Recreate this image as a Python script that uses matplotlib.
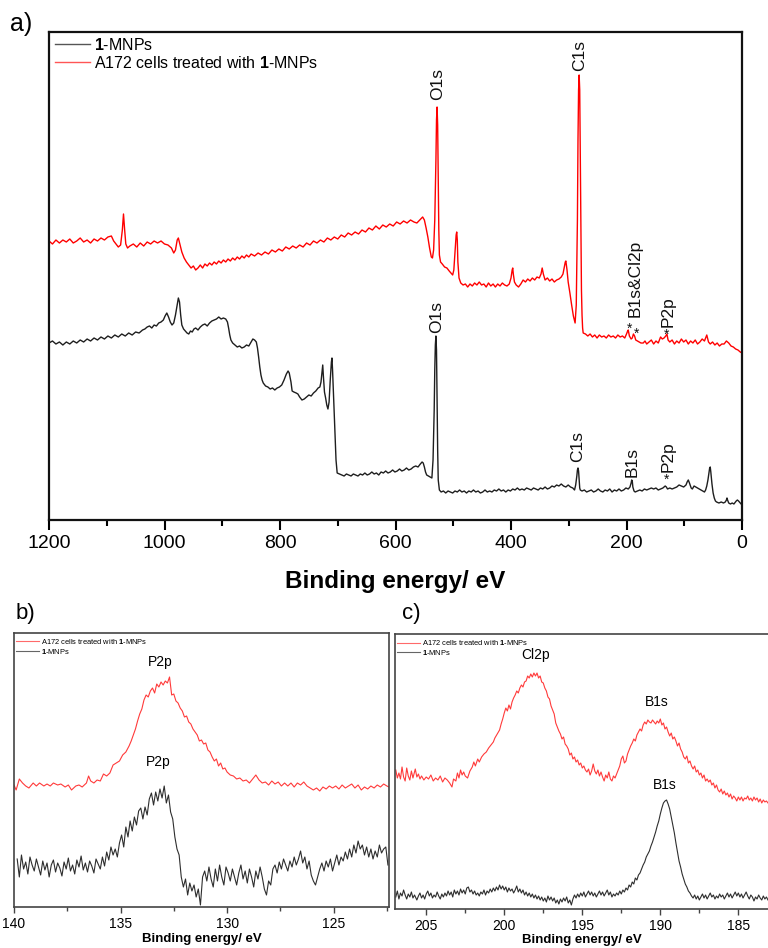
import matplotlib
matplotlib.use("Agg")
import matplotlib.pyplot as plt
from matplotlib.lines import Line2D
from matplotlib.ticker import MultipleLocator

plt.rcParams['font.family'] = ['Liberation Sans', 'DejaVu Sans']
plt.rcParams['mathtext.fontset'] = 'custom'
plt.rcParams['mathtext.rm'] = 'Liberation Sans'
plt.rcParams['mathtext.bf'] = 'Liberation Sans:bold'

# ---------------- survey spectra (a) ----------------
survey_cells_be = [
    1200, 1194, 1188, 1182, 1176, 1170, 1164, 1158, 1152, 1146, 1140, 1134, 1128, 1122, 1116, 1110,
    1104, 1098, 1092, 1088, 1084, 1080, 1076, 1073, 1071, 1069, 1067, 1064, 1060, 1054, 1048, 1042,
    1036, 1030, 1024, 1018, 1012, 1006, 1000, 994, 988, 984, 981, 978, 976, 973, 970, 966, 962, 958,
    954, 950, 946, 942, 938, 934, 930, 926, 922, 918, 914, 910, 906, 902, 898, 894, 890, 886, 882,
    878, 874, 870, 866, 862, 858, 854, 850, 844, 838, 832, 826, 820, 814, 808, 802, 796, 790, 784,
    778, 772, 766, 760, 754, 748, 742, 736, 730, 724, 718, 712, 706, 700, 694, 688, 682, 676, 670,
    664, 658, 652, 646, 640, 634, 628, 622, 616, 610, 604, 598, 592, 586, 580, 574, 568, 563, 558,
    553, 550, 547, 544, 541, 538, 536, 534, 532, 530, 529, 528, 527, 526, 525, 524, 522, 519, 515,
    511, 507, 504, 501, 499, 497, 495, 494, 493, 492, 490, 487, 483, 479, 475, 471, 467, 463, 459,
    455, 451, 447, 443, 439, 435, 431, 427, 423, 419, 415, 411, 407, 403, 400, 398, 397, 396, 394,
    391, 387, 383, 379, 375, 371, 367, 363, 359, 355, 351, 348, 346, 344, 341, 337, 333, 329, 325,
    321, 317, 313, 310, 308, 306, 305, 303, 301, 298, 295, 292, 289, 287, 285, 284, 283, 282, 281,
    280, 279, 278, 277, 276, 275, 271, 267, 263, 259, 255, 251, 247, 243, 239, 235, 231, 227, 223,
    219, 215, 211, 207, 203, 200, 198, 197, 195, 192, 190, 188, 186, 184, 181, 178, 175, 171, 168,
    165, 161, 157, 153, 149, 145, 141, 138, 135, 132, 130, 128, 125, 121, 117, 113, 109, 105, 101,
    97, 93, 89, 85, 81, 77, 73, 69, 65, 61, 58, 55, 51, 47, 43, 39, 35, 31, 27, 23, 19, 15, 11, 7, 3, 0]
survey_cells_int = [
    279, 276, 280, 277, 280, 278, 281, 277, 279, 282, 278, 280, 277, 281, 279, 282,
    280, 283, 284, 279, 276, 273, 275, 290, 306, 290, 276, 272, 274, 276, 273, 277,
    274, 278, 276, 279, 277, 279, 276, 275, 272, 267, 270, 280, 282, 275, 268, 262, 258, 255,
    252, 254, 250, 252, 255, 252, 256, 254, 257, 255, 258, 256, 259, 257, 260, 258, 261, 259, 262,
    260, 263, 261, 264, 262, 265, 263, 266, 264, 267, 265, 268, 266, 270, 268, 271, 269, 273, 271,
    274, 272, 275, 273, 277, 275, 279, 277, 280, 278, 282, 280, 283, 281, 285, 283, 287, 285, 288,
    286, 290, 288, 292, 290, 294, 291, 295, 293, 296, 294, 298, 296, 299, 297, 300, 298, 297, 300,
    303, 300, 292, 283, 272, 263, 262, 270, 300, 360, 400, 413, 395, 340, 290, 265, 258, 256, 253,
    252, 249, 247, 245, 250, 268, 285, 288, 280, 258, 242, 237, 235, 236, 233, 236, 234, 237, 235,
    238, 235, 236, 233, 237, 234, 236, 233, 236, 234, 237, 235, 234, 236, 242, 250, 252, 246, 238,
    235, 233, 236, 240, 238, 241, 239, 242, 240, 243, 242, 246, 252, 246, 240, 242, 239, 241, 238,
    240, 241, 243, 246, 252, 258, 259, 250, 238, 227, 215, 204, 197, 215, 300, 380, 430, 445, 430,
    360, 280, 230, 205, 192, 187, 186, 184, 186, 183, 185, 182, 185, 183, 184, 182, 185, 183, 184,
    182, 185, 183, 184, 182, 186, 189, 190, 184, 181, 182, 186, 184, 180, 179, 178, 177, 177, 179,
    176, 178, 180, 176, 179, 177, 183, 181, 182, 184, 186, 180, 178, 180, 176, 179, 177, 181, 178,
    180, 176, 179, 177, 180, 176, 178, 181, 179, 185, 178, 176, 178, 175, 177, 174, 176, 176, 179,
    177, 174, 173, 171, 170, 168, 167]

survey_np_be = [
    1200, 1194, 1188, 1182, 1176, 1170, 1164, 1158, 1152, 1146, 1140, 1134, 1128, 1122, 1116, 1110,
    1104, 1098, 1092, 1086, 1080, 1074, 1068, 1062, 1056, 1050, 1044, 1038, 1034, 1030, 1026, 1022,
    1018, 1014, 1010, 1006, 1002, 999, 996, 993, 990, 987, 984, 981, 978, 976, 974, 972, 970, 967,
    964, 961, 958, 955, 952, 949, 946, 942, 938, 934, 930, 926, 922, 918, 914, 910, 906, 902, 898,
    894, 891, 889, 887, 885, 882, 878, 874, 870, 866, 862, 858, 854, 850, 847, 844, 841, 839, 837,
    835, 833, 831, 829, 825, 821, 817, 813, 809, 805, 801, 797, 793, 789, 786, 784, 781, 779, 776,
    772, 769, 766, 762, 758, 754, 750, 746, 742, 738, 734, 731, 729, 727, 726, 725, 723, 721, 719,
    717, 715, 713, 711, 710, 709, 707, 705, 703, 701, 697, 693, 689, 685, 681, 677, 673, 669, 665,
    661, 657, 653, 649, 645, 641, 637, 633, 629, 625, 621, 617, 613, 609, 605, 601, 597, 593, 589,
    585, 581, 577, 573, 569, 565, 561, 557, 554, 552, 550, 548, 546, 543, 540, 537, 535, 533, 532,
    531, 530, 529, 528, 527, 526, 524, 521, 517, 513, 509, 505, 501, 497, 493, 489, 485, 481, 477,
    473, 469, 465, 461, 457, 453, 449, 445, 441, 437, 433, 429, 425, 421, 417, 413, 409, 405, 401,
    397, 393, 389, 385, 381, 377, 373, 369, 365, 361, 357, 353, 349, 345, 341, 337, 333, 329, 325,
    321, 317, 313, 309, 305, 301, 297, 293, 290, 288, 286, 285, 284, 283, 282, 281, 280, 277, 273,
    269, 265, 261, 257, 253, 249, 245, 241, 237, 233, 229, 225, 221, 217, 213, 209, 205, 201, 197,
    194, 192, 191, 190, 189, 187, 185, 181, 177, 173, 169, 165, 161, 157, 153, 149, 145, 141, 137,
    133, 131, 129, 125, 121, 117, 113, 109, 105, 101, 97, 95, 93, 91, 88, 86, 83, 80, 77, 74, 71,
    68, 65, 63, 61, 59, 57, 56, 55, 54, 52, 50, 48, 46, 44, 40, 36, 32, 29, 27, 26, 25, 23, 20, 17,
    14, 10, 8, 6, 3, 0]
survey_np_int = [
    177, 179, 176, 178, 175, 178, 176, 179, 177, 180, 178, 181, 179, 182, 180, 183,
    181, 184, 182, 185, 183, 186, 184, 187, 185, 188, 187, 190, 191, 193, 194, 192,
    195, 194, 197, 198, 200, 204, 207, 203, 198, 195, 197, 205, 215, 222, 218, 205, 195, 191,
    189, 187, 186, 189, 188, 191, 192, 190, 193, 195, 196, 194, 197, 199, 200, 201, 203, 201, 202,
    201, 198, 192, 185, 180, 177, 175, 173, 174, 172, 173, 175, 174, 178, 181, 180, 178, 172, 163,
    153, 145, 140, 137, 134, 133, 131, 132, 130, 132, 133, 135, 140, 146, 149, 147, 138, 129, 128,
    127, 126, 123, 120, 121, 123, 125, 124, 127, 129, 132, 133, 138, 150, 155, 145, 128, 122, 115,
    111, 118, 140, 158, 162, 150, 120, 90, 60, 47, 46, 45, 44, 46, 45, 44, 46, 45, 44,
    46, 45, 47, 45, 46, 48, 46, 47, 45, 48, 47, 49, 47, 48, 50, 48, 49, 51, 49,
    50, 52, 50, 51, 53, 54, 53, 56, 58, 57, 53, 48, 45, 44, 43, 42, 60, 110, 150,
    175, 184, 170, 120, 70, 40, 30, 28, 29, 27, 29, 28, 27, 29, 28, 30, 28, 29, 27,
    29, 28, 30, 28, 29, 27, 28, 30, 28, 29, 28, 30, 29, 31, 29, 30, 28, 30, 29,
    31, 30, 32, 30, 31, 30, 32, 31, 30, 32, 31, 30, 32, 31, 33, 31, 32, 34, 33,
    35, 34, 36, 34, 33, 35, 33, 32, 30, 35, 44, 50, 52, 49, 40, 32, 30, 29, 30,
    28, 29, 30, 28, 29, 31, 29, 28, 30, 29, 31, 28, 30, 29, 31, 29, 30, 32, 31,
    33, 37, 40, 39, 33, 29, 28, 29, 30, 29, 31, 30, 31, 32, 31, 32, 30, 31, 32,
    34, 33, 31, 32, 31, 32, 33, 35, 34, 33, 35, 38, 40, 37, 32, 31, 34, 33, 32, 31, 30,
    29, 28, 30, 34, 40, 48, 52, 53, 48, 36, 27, 22, 19, 18, 17, 18, 17, 18, 20, 22, 20, 17, 16, 17,
    16, 19, 20, 19, 17, 15]

# ---------------- P2p region (b) ----------------
p2p_cells_be = [
    140.0, 139.9, 139.75, 139.6, 139.45, 139.3, 139.1, 138.95, 138.8, 138.6, 138.45, 138.3, 138.15,
    137.95, 137.8, 137.6, 137.45, 137.3, 137.1, 136.95, 136.8, 136.6, 136.5, 136.4, 136.25, 136.1,
    135.95, 135.8, 135.65, 135.5, 135.35, 135.2, 135.05, 134.9, 134.75, 134.6, 134.5, 134.4, 134.3,
    134.2, 134.1, 134.0, 133.9, 133.8, 133.7, 133.6, 133.5, 133.4, 133.3, 133.2, 133.1, 133.0,
    132.9, 132.8, 132.7, 132.6, 132.5, 132.4, 132.3, 132.2, 132.1, 132.0, 131.9, 131.8, 131.7,
    131.6, 131.5, 131.4, 131.3, 131.2, 131.1, 131.0, 130.9, 130.8, 130.7, 130.6, 130.5, 130.4,
    130.3, 130.2, 130.1, 130.0, 129.85, 129.7, 129.55, 129.4, 129.25, 129.1, 128.95, 128.8, 128.65,
    128.5, 128.35, 128.2, 128.05, 127.9, 127.75, 127.6, 127.45, 127.3, 127.15, 127.0, 126.85, 126.7,
    126.55, 126.4, 126.25, 126.1, 125.95, 125.8, 125.65, 125.5, 125.35, 125.2, 125.05, 124.9, 124.75,
    124.6, 124.45, 124.3, 124.15, 124.0, 123.85, 123.7, 123.55, 123.4, 123.25, 123.1, 122.95, 122.8,
    122.65, 122.5, 122.4]
p2p_cells_int = [
    122, 117, 128, 124, 121, 119, 124, 121, 124, 121, 123, 121, 124,
    122, 123, 120, 122, 117, 121, 122, 120, 124, 131, 126, 124, 127,
    126, 133, 131, 134, 142, 144, 146, 152, 155, 161, 166, 172, 178,
    186, 193, 198, 207, 212, 210, 216, 219, 214, 223, 220, 225, 222,
    226, 224, 230, 212, 213, 206, 204, 199, 196, 190, 191, 185, 183,
    178, 175, 172, 166, 167, 163, 164, 157, 155, 150, 146, 148, 141,
    144, 138, 139, 135, 132, 131, 128, 129, 126, 127, 124, 128, 132,
    127, 124, 125, 122, 126, 123, 125, 121, 124, 121, 124, 120, 124,
    122, 125, 121, 119, 117, 119, 116, 120, 118, 121, 119, 121, 118,
    122, 119, 121, 123, 119, 122, 117, 120, 118, 121, 119, 122, 120,
    123, 121, 120]

p2p_np_be = [
    139.85, 139.75, 139.65, 139.55, 139.45, 139.35, 139.25, 139.15, 139.05, 138.95, 138.85, 138.75,
    138.65, 138.55, 138.45, 138.35, 138.25, 138.15, 138.05, 137.95, 137.85, 137.75, 137.65, 137.55,
    137.45, 137.35, 137.25, 137.15, 137.05, 136.95, 136.85, 136.75, 136.65, 136.55, 136.45, 136.35,
    136.25, 136.15, 136.05, 135.95, 135.85, 135.75, 135.65, 135.55, 135.45, 135.35, 135.25, 135.15,
    135.05, 134.95, 134.85, 134.75, 134.65, 134.55, 134.45, 134.35, 134.25, 134.15, 134.05, 133.95,
    133.85, 133.75, 133.65, 133.55, 133.45, 133.35, 133.25, 133.15, 133.05, 132.95, 132.85, 132.75,
    132.65, 132.55, 132.45, 132.35, 132.25, 132.15, 132.05, 131.95, 131.85, 131.75, 131.65, 131.55,
    131.45, 131.35, 131.25, 131.15, 131.05, 130.95, 130.85, 130.75, 130.65, 130.55, 130.45, 130.35,
    130.25, 130.15, 130.05, 129.95, 129.85, 129.75, 129.65, 129.55, 129.45, 129.35, 129.25, 129.15,
    129.05, 128.95, 128.85, 128.75, 128.65, 128.55, 128.45, 128.35, 128.25, 128.15, 128.05, 127.95,
    127.85, 127.75, 127.65, 127.55, 127.45, 127.35, 127.25, 127.15, 127.05, 126.95, 126.85, 126.75,
    126.65, 126.55, 126.45, 126.35, 126.25, 126.15, 126.05, 125.95, 125.85, 125.75, 125.65, 125.55,
    125.45, 125.35, 125.25, 125.15, 125.05, 124.95, 124.85, 124.75, 124.65, 124.55, 124.45, 124.35,
    124.25, 124.15, 124.05, 123.95, 123.85, 123.75, 123.65, 123.55, 123.45, 123.35, 123.25, 123.15,
    123.05, 122.95, 122.85, 122.75, 122.65, 122.55, 122.45]
p2p_np_int = [
    48, 30, 52, 38, 45, 33, 50, 42, 36, 48, 40, 32,
    46, 37, 44, 30, 42, 47, 35, 44, 39, 31, 45, 38,
    49, 36, 42, 33, 47, 40, 51, 37, 44, 35, 46, 41,
    34, 48, 43, 38, 50, 41, 55, 47, 60, 52, 58, 50,
    64, 72, 60, 80, 70, 86, 76, 90, 82, 96, 99, 88,
    100, 92, 108, 114, 102, 115, 106, 118, 109, 121, 104, 112,
    95, 88, 70, 58, 52, 30, 20, 28, 12, 24, 16, 22,
    10, 18, 2, 30, 36, 26, 40, 28, 20, 38, 26, 42,
    30, 22, 40, 34, 26, 38, 30, 22, 34, 42, 28, 36,
    24, 38, 30, 20, 36, 28, 40, 30, 18, 12, 26, 22,
    38, 42, 34, 45, 38, 48, 42, 36, 46, 40, 50, 42,
    48, 56, 44, 50, 38, 46, 32, 26, 22, 30, 38, 44,
    36, 46, 40, 48, 36, 44, 52, 42, 50, 46, 55, 48,
    58, 50, 62, 54, 66, 58, 62, 52, 60, 50, 58, 48,
    56, 50, 62, 54, 58, 60, 42]

# ---------------- Cl2p / B1s region (c) ----------------
b1s_cells_be = [
    206.95, 206.85, 206.75, 206.65, 206.55, 206.45, 206.35, 206.25, 206.15, 206.05, 205.95, 205.85,
    205.7, 205.6, 205.5, 205.4, 205.3, 205.15, 205.0, 204.85, 204.7, 204.55, 204.4, 204.25, 204.1,
    203.95, 203.8, 203.65, 203.5, 203.35, 203.25, 203.1, 203.0, 202.9, 202.8, 202.7, 202.6, 202.5,
    202.35, 202.2, 202.05, 201.95, 201.85, 201.7, 201.6, 201.45, 201.3, 201.15, 201.0, 200.85,
    200.7, 200.6, 200.45, 200.3, 200.2, 200.1, 200.0, 199.9, 199.8, 199.7, 199.6, 199.5, 199.4,
    199.3, 199.2, 199.1, 199.0, 198.9, 198.8, 198.7, 198.6, 198.5, 198.4, 198.3, 198.2, 198.1,
    198.0, 197.9, 197.8, 197.7, 197.6, 197.5, 197.4, 197.3, 197.2, 197.1, 197.0, 196.9, 196.8,
    196.7, 196.6, 196.5, 196.4, 196.3, 196.2, 196.1, 196.0, 195.9, 195.8, 195.7, 195.6, 195.5,
    195.4, 195.3, 195.2, 195.1, 195.0, 194.9, 194.8, 194.7, 194.6, 194.5, 194.4, 194.3, 194.2,
    194.1, 194.0, 193.9, 193.8, 193.7, 193.6, 193.5, 193.4, 193.3, 193.2, 193.1, 193.0, 192.9,
    192.8, 192.7, 192.6, 192.5, 192.4, 192.3, 192.2, 192.1, 192.0, 191.9, 191.8, 191.7, 191.6,
    191.5, 191.4, 191.3, 191.2, 191.1, 191.0, 190.9, 190.8, 190.7, 190.6, 190.5, 190.4, 190.3,
    190.2, 190.1, 190.0, 189.9, 189.8, 189.7, 189.6, 189.5, 189.4, 189.3, 189.2, 189.1, 189.0,
    188.9, 188.8, 188.7, 188.6, 188.5, 188.4, 188.3, 188.2, 188.1, 188.0, 187.9, 187.8, 187.7,
    187.6, 187.5, 187.4, 187.3, 187.2, 187.1, 187.0, 186.9, 186.8, 186.7, 186.6, 186.5, 186.4,
    186.3, 186.2, 186.1, 186.0, 185.9, 185.8, 185.7, 185.6, 185.5, 185.4, 185.3, 185.2, 185.1,
    185.0, 184.9, 184.8, 184.7, 184.6, 184.5, 184.4, 184.3, 184.2, 184.1, 184.0, 183.9, 183.8,
    183.7, 183.6, 183.5, 183.4, 183.3, 183.2, 183.1]
b1s_cells_int = [
    139, 131, 136, 130, 142, 132, 128, 141, 133, 129, 138, 131,
    140, 132, 135, 130, 133, 129, 132, 130, 134, 128, 131, 129, 133,
    127, 131, 129, 126, 122, 130, 128, 136, 131, 139, 134, 137, 133,
    131, 138, 142, 147, 143, 150, 147, 152, 155, 157, 161, 164,
    167, 171, 175, 179, 185, 190, 196, 201, 198, 204, 200, 207, 211,
    214, 218, 216, 221, 224, 222, 227, 228, 233, 231, 235, 232, 236,
    233, 236, 231, 233, 227, 226, 221, 218, 212, 210, 203, 199, 195,
    186, 182, 178, 175, 170, 172, 165, 163, 160, 154, 156, 150, 152,
    147, 149, 144, 146, 141, 143, 139, 137, 140, 134, 138, 145, 138,
    135, 139, 133, 137, 132, 128, 134, 131, 137, 130, 128, 133, 131,
    135, 139, 143, 150, 153, 146, 148, 155, 159, 163, 166, 170, 168,
    174, 177, 180, 178, 184, 187, 185, 189, 187, 186, 189, 187, 185,
    188, 186, 190, 184, 186, 180, 182, 177, 173, 176, 170, 172, 168,
    163, 166, 160, 157, 152, 150, 153, 146, 148, 143, 140, 143, 137,
    139, 134, 136, 131, 134, 128, 130, 127, 129, 124, 126, 121, 124,
    119, 117, 120, 115, 118, 114, 116, 112, 115, 110, 113, 111, 108,
    112, 109, 112, 108, 111, 110, 113, 109, 111, 108, 112, 109, 111,
    107, 110, 106, 109, 107, 108, 106]

b1s_np_be = [
    206.95, 206.85, 206.75, 206.65, 206.55, 206.45, 206.35, 206.25, 206.15, 206.05, 205.95, 205.85,
    205.75, 205.6, 205.5, 205.4, 205.3, 205.2, 205.1, 205.0, 204.9, 204.8, 204.7, 204.6, 204.5,
    204.4, 204.3, 204.2, 204.1, 204.0, 203.9, 203.8, 203.7, 203.6, 203.5, 203.4, 203.3, 203.2,
    203.1, 203.0, 202.9, 202.8, 202.7, 202.6, 202.5, 202.4, 202.3, 202.2, 202.1, 202.0, 201.9,
    201.8, 201.7, 201.6, 201.5, 201.4, 201.3, 201.2, 201.1, 201.0, 200.9, 200.8, 200.7, 200.6,
    200.5, 200.4, 200.3, 200.2, 200.1, 200.0, 199.9, 199.8, 199.7, 199.6, 199.5, 199.4, 199.3,
    199.2, 199.1, 199.0, 198.9, 198.8, 198.7, 198.6, 198.5, 198.4, 198.3, 198.2, 198.1, 198.0,
    197.9, 197.8, 197.7, 197.6, 197.5, 197.4, 197.3, 197.2, 197.1, 197.0, 196.9, 196.8, 196.7,
    196.6, 196.5, 196.4, 196.3, 196.2, 196.1, 196.0, 195.9, 195.8, 195.7, 195.6, 195.5, 195.4,
    195.3, 195.2, 195.1, 195.0, 194.9, 194.8, 194.7, 194.6, 194.5, 194.4, 194.3, 194.2, 194.1,
    194.0, 193.9, 193.8, 193.7, 193.6, 193.5, 193.4, 193.3, 193.2, 193.1, 193.0, 192.9, 192.8,
    192.7, 192.6, 192.5, 192.4, 192.3, 192.2, 192.1, 192.0, 191.9, 191.8, 191.7, 191.6, 191.5,
    191.4, 191.3, 191.2, 191.1, 191.0, 190.9, 190.8, 190.7, 190.6, 190.5, 190.4, 190.3, 190.2,
    190.1, 190.0, 189.9, 189.8, 189.7, 189.6, 189.5, 189.4, 189.3, 189.2, 189.1, 189.0, 188.9,
    188.8, 188.7, 188.6, 188.5, 188.4, 188.3, 188.2, 188.1, 188.0, 187.9, 187.8, 187.7, 187.6,
    187.5, 187.4, 187.3, 187.2, 187.1, 187.0, 186.9, 186.8, 186.7, 186.6, 186.5, 186.4, 186.3,
    186.2, 186.1, 186.0, 185.9, 185.8, 185.7, 185.6, 185.5, 185.4, 185.3, 185.2, 185.1, 185.0,
    184.9, 184.8, 184.7, 184.6, 184.5, 184.4, 184.3, 184.2, 184.1, 184.0, 183.9, 183.8, 183.7,
    183.6, 183.5, 183.4, 183.3, 183.2, 183.1]
b1s_np_int = [
    12, 18, 10, 16, 13, 19, 14, 10, 15, 12, 17, 11,
    14, 9, 13, 16, 11, 14, 10, 15, 18, 13, 16, 11, 14,
    12, 17, 13, 10, 15, 12, 16, 13, 18, 14, 17, 12, 19,
    15, 18, 14, 20, 16, 19, 15, 21, 22, 17, 19, 15, 18,
    14, 16, 13, 17, 15, 19, 14, 18, 16, 20, 17, 21, 18,
    22, 19, 24, 20, 23, 19, 22, 17, 21, 18, 20, 16, 19,
    23, 17, 20, 16, 19, 14, 17, 13, 16, 12, 15, 11, 14,
    10, 13, 9, 12, 8, 11, 7, 13, 9, 12, 8, 11, 6,
    9, 5, 10, 7, 11, 8, 12, 6, 9, 4, 10, 14, 11,
    15, 12, 16, 13, 17, 12, 15, 18, 14, 17, 13, 16, 12,
    15, 18, 14, 17, 13, 16, 19, 14, 17, 12, 15, 13, 16,
    14, 18, 15, 19, 17, 21, 19, 24, 22, 27, 25, 31, 29,
    34, 36, 40, 44, 47, 52, 55, 58, 63, 67, 72, 77, 83,
    88, 95, 101, 106, 108, 109, 105, 100, 92, 84, 76, 66, 57,
    48, 42, 35, 30, 25, 22, 18, 16, 13, 11, 14, 10, 13,
    9, 12, 15, 11, 14, 10, 13, 16, 12, 14, 10, 13, 11,
    15, 12, 14, 10, 13, 16, 12, 15, 11, 14, 17, 13, 16,
    12, 15, 11, 14, 17, 13, 10, 14, 12, 8, 12, 10, 14,
    11, 9, 13, 10, 12, 9]

LABEL_CELLS = 'A172 cells treated with $\\mathbf{1}$-MNPs'
LABEL_NP = '$\\mathbf{1}$-MNPs'

RED_A = '#ff0000'
BLACK_A = '#1e1e1e'
RED_S = '#ff3a3a'
BLACK_S = '#2e2e2e'

W, H = 768, 948
fig = plt.figure(figsize=(W / 100, H / 100), dpi=100)


def axes_px(left, top, right, bottom):
    return fig.add_axes([left / W, 1 - bottom / H, (right - left) / W, (bottom - top) / H])


# ---------------- panel a ----------------
ax = axes_px(49, 32, 742, 520)
ax.plot(survey_np_be, survey_np_int, color=BLACK_A, lw=1.0)
ax.plot(survey_cells_be, survey_cells_int, color=RED_A, lw=1.0)
ax.set_xlim(1200, 0)
ax.set_ylim(0, 488)
ax.set_yticks([])
ax.xaxis.set_major_locator(MultipleLocator(200))
ax.xaxis.set_minor_locator(MultipleLocator(100))
ax.tick_params(axis='x', which='major', direction='out', length=7, width=1.5, pad=4, labelsize=14)
ax.tick_params(axis='x', which='minor', direction='out', length=4, width=1.5)
for s in ax.spines.values():
    s.set_linewidth(1.6)
    s.set_color('#111111')
ax.set_xlabel('Binding energy/ eV', fontsize=17.5, fontweight='bold')
ax.xaxis.set_label_coords(0.5, -0.102)

peak_kw = dict(rotation=90, ha='center', va='bottom', fontsize=12.5, color='#111111')
ax.text(527, 420, 'O1s', **peak_kw)
ax.text(281, 449, 'C1s', **peak_kw)
ax.text(185, 203, 'B1s&Cl2p', **peak_kw)
ax.text(128, 193, 'P2p', **peak_kw)
ax.text(528, 187, 'O1s', **peak_kw)
ax.text(284, 58, 'C1s', **peak_kw)
ax.text(190, 43, 'B1s', **peak_kw)
ax.text(128, 48, 'P2p', **peak_kw)
star_kw = dict(ha='center', va='center', fontsize=10, color='#111111')
ax.text(195.5, 191, '*', **star_kw)
ax.text(182, 186, '*', **star_kw)
ax.text(131, 185, '*', **star_kw)
ax.text(131.5, 40, '*', **star_kw)

handles = [Line2D([], [], color='#555555', lw=1.0), Line2D([], [], color='#ff5555', lw=1.0)]
ax.legend(handles, [LABEL_NP, LABEL_CELLS], loc='upper left', bbox_to_anchor=(0.008, 0.99),
          frameon=False, fontsize=11.5, handlelength=2.2, handletextpad=0.3,
          labelspacing=0.12, borderpad=0, borderaxespad=0)

fig.text(21 / W, 1 - 24 / H, 'a)', fontsize=18, ha='center', va='center')


def small_panel(ax, xlim, major, minor):
    ax.set_xlim(*xlim)
    ax.set_yticks([])
    ax.xaxis.set_major_locator(MultipleLocator(major))
    ax.xaxis.set_minor_locator(MultipleLocator(minor))
    ax.tick_params(axis='x', which='major', direction='out', length=4, width=1.0, pad=3,
                   labelsize=10, color='#444444')
    ax.tick_params(axis='x', which='minor', direction='out', length=3, width=1.0, color='#444444')
    for s in ax.spines.values():
        s.set_linewidth(1.2)
        s.set_color('#444444')
    ax.set_xlabel('Binding energy/ eV', fontsize=9.5, fontweight='bold')
    h = [Line2D([], [], color='#ff6a6a', lw=0.8), Line2D([], [], color='#666666', lw=0.8)]
    ax.legend(h, [LABEL_CELLS, LABEL_NP], loc='upper left', bbox_to_anchor=(0.006, 0.985),
              frameon=False, fontsize=5.4, handlelength=3.0, handletextpad=0.3,
              labelspacing=0.12, borderpad=0, borderaxespad=0)


# ---------------- panel b ----------------
axb = axes_px(14, 633, 389, 907)
axb.plot(p2p_cells_be, p2p_cells_int, color=RED_S, lw=0.8)
axb.plot(p2p_np_be, p2p_np_int, color=BLACK_S, lw=0.8)
axb.set_ylim(0, 274)
small_panel(axb, (140, 122.4), 5, 2.5)
axb.xaxis.set_label_coords(0.5, -0.095)
axb.text(133.15, 245, 'P2p', ha='center', va='center', fontsize=10)
axb.text(133.25, 145, 'P2p', ha='center', va='center', fontsize=10)
fig.text(25 / W, 1 - 614 / H, 'b)', fontsize=16, ha='center', va='center')

# ---------------- panel c ----------------
axc = axes_px(395, 634, 768, 909)
axc.plot(b1s_cells_be, b1s_cells_int, color=RED_S, lw=0.8)
axc.plot(b1s_np_be, b1s_np_int, color=BLACK_S, lw=0.8)
axc.set_ylim(0, 275)
small_panel(axc, (207, 183.1), 5, 2.5)
axc.spines['right'].set_visible(False)
axc.xaxis.set_label_coords(0.5, -0.09)
axc.text(198.0, 254, 'Cl2p', ha='center', va='center', fontsize=10)
axc.text(190.2, 207, 'B1s', ha='center', va='center', fontsize=10)
axc.text(189.7, 124, 'B1s', ha='center', va='center', fontsize=10)
fig.text(411 / W, 1 - 614 / H, 'c)', fontsize=16, ha='center', va='center')

fig.savefig('out.png', dpi=100)
